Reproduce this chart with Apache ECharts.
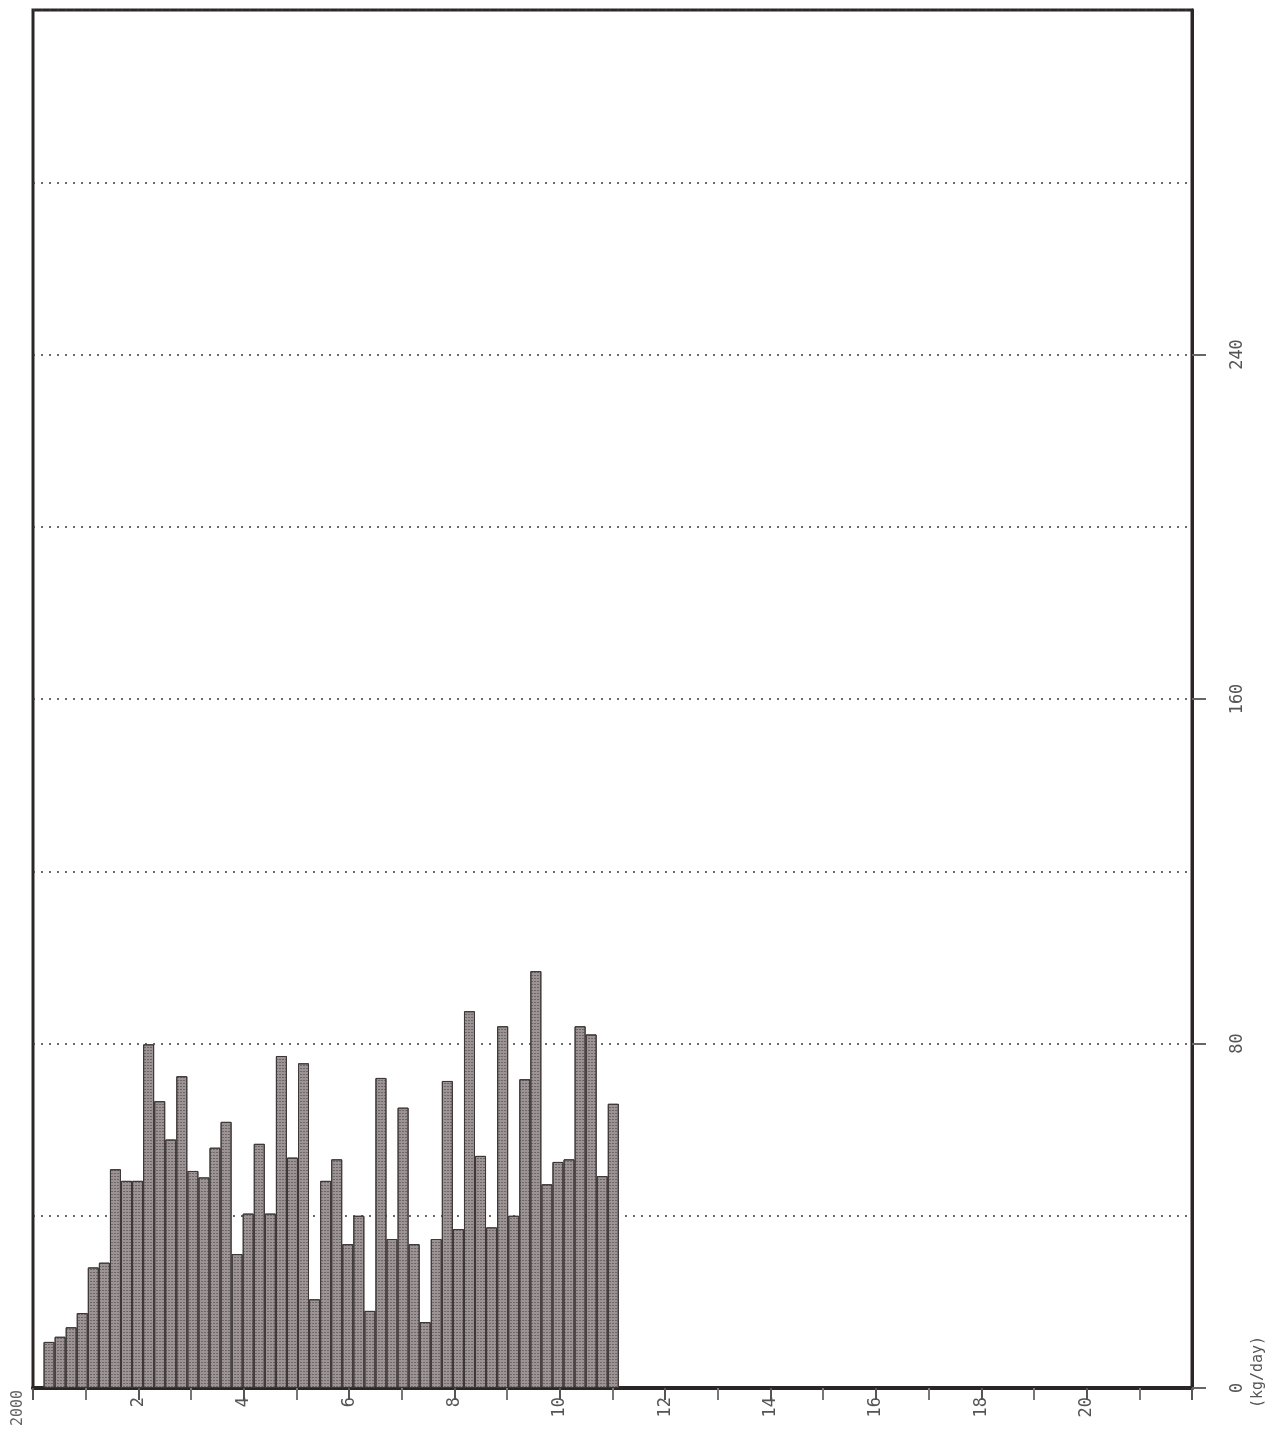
<!DOCTYPE html>
<html>
<head>
<meta charset="utf-8">
<title>Weekly load</title>
<script src="https://cdn.jsdelivr.net/npm/echarts@6/dist/echarts.min.js"></script>
<style>
  html, body { margin: 0; padding: 0; background: #fff; }
  #chart { width: 1283px; height: 1440px; }
</style>
</head>
<body>
<div id="chart"></div>
<script>
/* weekly values, kg/day, read left to right */
const weekValues = [
  10.7, 11.9, 14.1, 17.4, 28.0, 29.1, 50.8, 48.1, 48.1, 79.8,
  66.6, 57.7, 72.4, 50.4, 48.9, 55.8, 61.8, 31.1, 40.5, 56.7,
  40.5, 77.1, 53.5, 75.4, 20.6, 48.1, 53.1, 33.4, 40.0, 17.9,
  72.0, 34.6, 65.1, 33.4, 15.3, 34.6, 71.3, 36.9, 87.5, 53.9,
  37.3, 84.0, 40.0, 71.7, 96.8, 47.3, 52.5, 53.1, 84.0, 82.1,
  49.2, 66.0
]
/* x axis: labelled every 2, minor tick every 1 */
const xTickLabels = ['2', '4', '6', '8', '10', '12', '14', '16', '18', '20']
/* y axis: labelled every 80, dotted grid every 40 */
const yTickLabels = ['0', '80', '160', '240']

const weekStart = 0.2
const weekWidth = 0.21

const barData = weekValues.map((v, i) => [weekStart + (i + 0.5) * weekWidth, v])

const chart = echarts.init(document.getElementById('chart'))

const labelFont = {
  fontFamily: 'DejaVu Sans Mono',
  fontSize: 17,
  color: '#555'
}

chart.setOption({
  animation: false,
  backgroundColor: '#fff',
  grid: {
    left: 33,
    right: 91,
    top: 10,
    bottom: 52,
    show: true,
    borderColor: '#2b2626',
    borderWidth: 3
  },
  xAxis: {
    type: 'value',
    min: 0,
    max: 22,
    interval: 2,
    axisLine: { show: true, onZero: false, lineStyle: { color: '#2b2626', width: 4 } },
    axisTick: { show: true, length: 12, lineStyle: { color: '#555', width: 2 } },
    minorTick: { show: true, splitNumber: 2, length: 12, lineStyle: { color: '#777', width: 2 } },
    splitLine: { show: false },
    axisLabel: {
      ...labelFont,
      rotate: 90,
      margin: 9,
      showMinLabel: false,
      showMaxLabel: false,
      formatter: v => xTickLabels.includes(String(v)) ? String(v) : ''
    }
  },
  yAxis: {
    type: 'value',
    position: 'right',
    min: 0,
    max: 320,
    interval: 80,
    axisLine: { show: true, onZero: false, lineStyle: { color: '#2b2626', width: 3 } },
    axisTick: { show: true, length: 14, lineStyle: { color: '#666', width: 2 } },
    minorTick: { show: false, splitNumber: 2 },
    splitLine: {
      show: true,
      lineStyle: { color: '#3a3a3a', width: 1.6, type: [2, 6] }
    },
    minorSplitLine: {
      show: true,
      lineStyle: { color: '#3a3a3a', width: 1.6, type: [2, 6] }
    },
    axisLabel: {
      ...labelFont,
      rotate: 90,
      margin: 37,
      showMaxLabel: false,
      formatter: v => yTickLabels.includes(String(v)) ? String(v) : ''
    }
  },
  graphic: [
    {
      type: 'text',
      x: 18,
      y: 1408,
      rotation: Math.PI / 2,
      style: {
        text: '2000',
        font: '15px "DejaVu Sans Mono"',
        fill: '#666',
        align: 'center',
        verticalAlign: 'middle'
      }
    },
    {
      type: 'text',
      x: 1258,
      y: 1372,
      rotation: Math.PI / 2,
      style: {
        text: '(kg/day)',
        font: '15px "DejaVu Sans Mono"',
        fill: '#555',
        align: 'center',
        verticalAlign: 'middle'
      }
    }
  ],
  series: [{
    type: 'bar',
    data: barData,
    barWidth: 11,
    itemStyle: {
      color: '#9c9494',
      borderColor: '#3e3838',
      borderWidth: 1,
      decal: {
        symbol: 'rect',
        symbolSize: 0.8,
        color: 'rgba(55, 45, 45, 0.55)',
        dashArrayX: [2, 1],
        dashArrayY: [1, 2]
      }
    }
  }]
})
</script>
</body>
</html>
